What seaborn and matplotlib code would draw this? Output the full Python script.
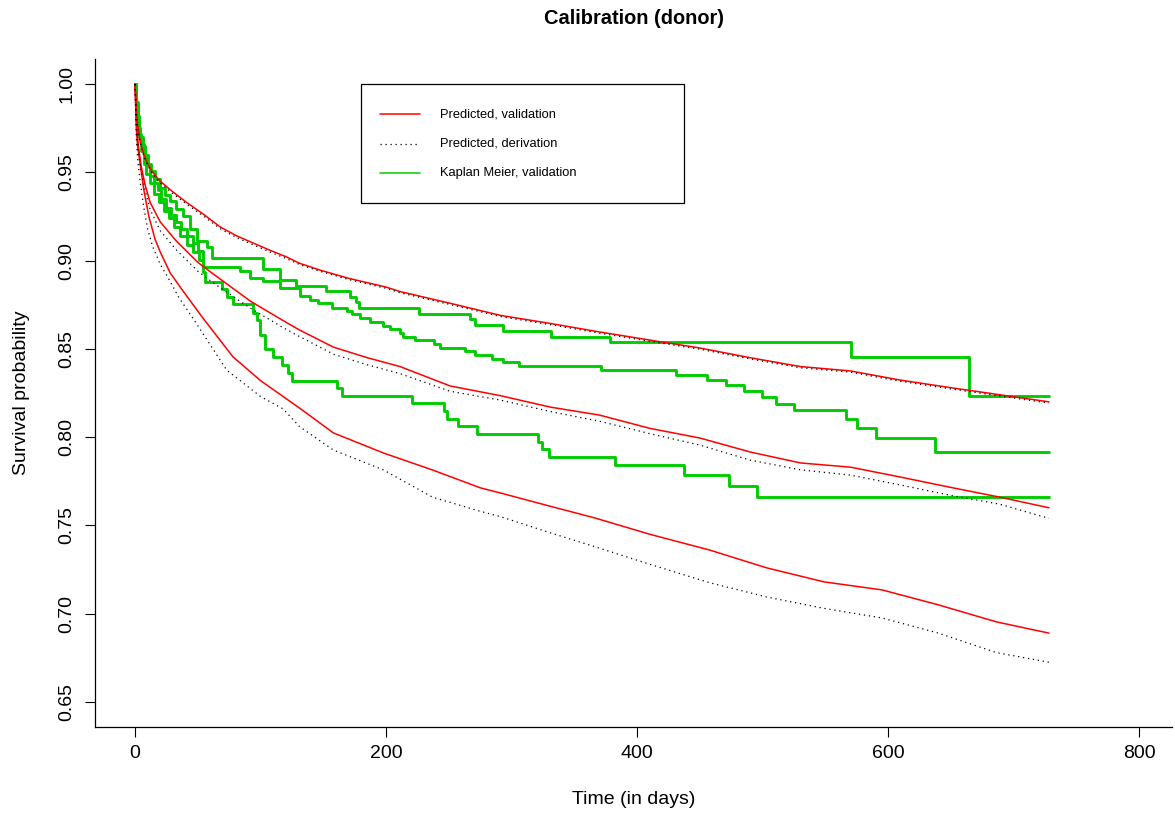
import numpy as np
import pandas as pd
import matplotlib
matplotlib.use("Agg")
import matplotlib.pyplot as plt
from matplotlib.patches import Rectangle
from matplotlib.lines import Line2D
import seaborn as sns

sns.set_style("ticks")
plt.rcParams['font.family'] = ['Liberation Sans', 'DejaVu Sans']
plt.rcParams['text.color'] = 'black'
plt.rcParams['axes.labelcolor'] = 'black'
plt.rcParams['xtick.color'] = 'black'
plt.rcParams['ytick.color'] = 'black'

# --- predicted survival, validation (red) and derivation (dotted) for three groups
t_pred_1 = [0, 1, 2, 4, 7, 10, 14, 20, 30, 41, 55, 68, 81, 94, 107, 121, 131, 147, 170, 200, 211, 250,
            291, 330, 370, 410, 450, 490, 530, 570, 609, 650, 689, 728]
val_1 = [1.0, 0.985, 0.977, 0.968, 0.96, 0.955, 0.95, 0.945, 0.939, 0.933, 0.926, 0.919, 0.914, 0.910,
         0.906, 0.902, 0.8985, 0.8947, 0.890, 0.885, 0.8825, 0.876, 0.869, 0.8645, 0.8596, 0.855, 0.8505,
         0.845, 0.840, 0.8375, 0.8324, 0.828, 0.824, 0.820]
der_1 = [1.0, 0.984, 0.976, 0.967, 0.959, 0.954, 0.949, 0.944, 0.938, 0.932, 0.925, 0.918, 0.913, 0.909,
         0.905, 0.901, 0.8978, 0.894, 0.8893, 0.8843, 0.8818, 0.8753, 0.8683, 0.8638, 0.8589, 0.8543,
         0.8498, 0.8443, 0.8393, 0.8368, 0.8317, 0.8273, 0.8233, 0.8193]

t_pred_2 = [0, 1, 2, 3, 5, 8, 12, 20, 33, 50, 65, 92, 118, 131, 158, 185, 211, 251, 291, 331, 370, 410,
            450, 490, 530, 570, 609, 650, 689, 728]
val_2 = [1.0, 0.98, 0.97, 0.963, 0.953, 0.943, 0.933, 0.922, 0.911, 0.899, 0.891, 0.877, 0.866, 0.8607,
         0.851, 0.845, 0.840, 0.829, 0.8235, 0.817, 0.8125, 0.805, 0.7995, 0.7916, 0.7854, 0.783, 0.7775,
         0.7715, 0.766, 0.760]
der_2 = [1.0, 0.978, 0.968, 0.96, 0.95, 0.94, 0.929, 0.917, 0.906, 0.894, 0.886, 0.873, 0.862, 0.857,
         0.847, 0.841, 0.836, 0.826, 0.821, 0.8145, 0.809, 0.802, 0.7955, 0.787, 0.7815, 0.7785, 0.773,
         0.767, 0.762, 0.754]

t_pred_3 = [0, 1, 2, 4, 7, 11, 16, 20, 28, 38, 54, 78, 100, 118, 131, 158, 198, 237, 275, 291, 330, 366,
            410, 458, 503, 549, 595, 640, 686, 728]
val_3 = [1.0, 0.975, 0.965, 0.955, 0.94, 0.925, 0.912, 0.905, 0.893, 0.883, 0.8675, 0.8455, 0.832,
         0.823, 0.8165, 0.8024, 0.791, 0.7814, 0.7713, 0.7684, 0.761, 0.7543, 0.745, 0.736, 0.726, 0.718,
         0.7135, 0.705, 0.6954, 0.689]
t_der_3 = [0, 1, 2, 4, 7, 10, 14, 20, 25, 35, 46, 73, 100, 118, 131, 158, 198, 237, 275, 291, 330, 366,
           410, 458, 503, 549, 595, 640, 686, 728]
der_3 = [1.0, 0.97, 0.958, 0.945, 0.93, 0.918, 0.908, 0.898, 0.892, 0.879, 0.8675, 0.838, 0.823, 0.816,
         0.806, 0.7927, 0.7814, 0.766, 0.758, 0.755, 0.746, 0.738, 0.728, 0.7175, 0.7095, 0.703, 0.6976,
         0.689, 0.678, 0.6725]

# --- Kaplan Meier, validation (green steps)
t_km_1 = [0, 1, 2, 3, 4, 6, 8, 10, 13, 16, 20, 24, 28, 33, 38, 44, 49, 57.6, 61.1, 102.2, 115.5, 128,
          152.5, 171, 176.3, 178.7, 226, 266.8, 270.8, 292.9, 331, 378.3, 570, 664, 728]
km_1 = [1.0, 0.99, 0.982, 0.975, 0.97, 0.965, 0.96, 0.955, 0.951, 0.946, 0.941, 0.937, 0.934, 0.929,
        0.925, 0.918, 0.9113, 0.9079, 0.9017, 0.8951, 0.889, 0.8858, 0.8828, 0.8796, 0.8764, 0.873,
        0.8698, 0.8668, 0.8635, 0.8603, 0.8569, 0.8537, 0.8452, 0.8232, 0.8232]

t_km_2 = [0, 1, 2, 3, 5, 7, 9, 12, 15, 18, 21, 25, 29, 33, 37, 41, 46, 50, 54.4, 83.4, 91.4, 102.2,
          115.2, 131.4, 139.4, 146, 156.7, 169.1, 172.6, 179.2, 187.2, 197.8, 203.1, 211.1, 213.2, 223,
          238.1, 242.9, 262.8, 270.8, 284.1, 292.9, 305.9, 371.2, 430.9, 455.8, 470.7, 485, 499.2, 510.3,
          525.1, 566, 574.8, 590, 637.2, 728]
km_2 = [1.0, 0.988, 0.978, 0.972, 0.966, 0.96, 0.954, 0.948, 0.944, 0.94, 0.935, 0.93, 0.926, 0.922,
        0.918, 0.914, 0.91, 0.9056, 0.8966, 0.8943, 0.8903, 0.8884, 0.8843, 0.880, 0.8777, 0.8758, 0.8734,
        0.8715, 0.8696, 0.8673, 0.8654, 0.863, 0.8611, 0.8588, 0.8569, 0.855, 0.8528, 0.8507, 0.8488,
        0.8465, 0.8445, 0.8424, 0.8403, 0.838, 0.8352, 0.8324, 0.8294, 0.8262, 0.8228, 0.819, 0.8154,
        0.8105, 0.8052, 0.7995, 0.7916, 0.7916]

t_km_3 = [0, 1, 2, 3, 5, 7, 9, 12, 15, 19, 23, 27, 31, 36, 41, 46, 51, 54.4, 55.8, 69.1, 73, 78.3, 94.2,
          96.9, 99.6, 103.5, 110.2, 116.8, 122.1, 124.8, 160.6, 165.1, 220.9, 246.1, 248.2, 257, 272.1,
          321.3, 323.9, 330, 382.3, 437.3, 473.1, 495.2, 728]
km_3 = [1.0, 0.985, 0.976, 0.97, 0.962, 0.955, 0.949, 0.944, 0.938, 0.933, 0.928, 0.924, 0.919, 0.914,
        0.909, 0.905, 0.9003, 0.8937, 0.888, 0.8837, 0.8796, 0.8753, 0.8705, 0.8664, 0.8579, 0.8498,
        0.8452, 0.8409, 0.8362, 0.832, 0.8277, 0.8235, 0.8192, 0.8148, 0.8103, 0.8063, 0.8018, 0.7975,
        0.7931, 0.7888, 0.784, 0.7784, 0.7724, 0.766, 0.766]

legend_labels = ["Predicted, validation", "Predicted, derivation", "Kaplan Meier, validation"]
x_ticks = [0, 200, 400, 600, 800]
y_ticks = [0.65, 0.70, 0.75, 0.80, 0.85, 0.90, 0.95, 1.00]

RED = "#FF0000"
GREEN = "#00CD00"

fig = plt.figure(figsize=(11.75, 8.16), dpi=100)
ax = fig.add_axes([95 / 1175, (816 - 726.7) / 816, 1077 / 1175, 667.7 / 816])

for t, s in [(t_km_1, km_1), (t_km_2, km_2), (t_km_3, km_3)]:
    sns.lineplot(x=t, y=s, ax=ax, color=GREEN, lw=2.1, estimator=None, sort=False,
                 drawstyle="steps-post")

for t, s in [(t_pred_1, val_1), (t_pred_2, val_2), (t_pred_3, val_3)]:
    sns.lineplot(x=t, y=s, ax=ax, color=RED, lw=1.1, estimator=None, sort=False)

for t, s in [(t_pred_1, der_1), (t_pred_2, der_2), (t_der_3, der_3)]:
    sns.lineplot(x=t, y=s, ax=ax, color="black", lw=0.9, linestyle=(0, (1, 3)),
                 estimator=None, sort=False)

ax.set_xlim(-31.9, 826)
ax.set_ylim(0.636, 1.0142)
ax.set_xticks(x_ticks)
ax.set_xticklabels([str(v) for v in x_ticks], fontsize=14, color="black")
ax.set_yticks(y_ticks)
ax.set_yticklabels(["%.2f" % v for v in y_ticks], fontsize=14, rotation=90, va="center", color="black")
ax.tick_params(direction="out", length=7, width=0.8, color="black")
ax.tick_params(axis="x", pad=6.5)
ax.tick_params(axis="y", pad=7)
for side in ["top", "right"]:
    ax.spines[side].set_visible(False)
for side in ["left", "bottom"]:
    ax.spines[side].set_linewidth(0.9)
    ax.spines[side].set_color("black")

ax.set_xlabel("Time (in days)", fontsize=14, va="center", color="black")
ax.xaxis.set_label_coords(0.5, (726.7 - 800) / 667.7)
ax.set_ylabel("Survival probability", fontsize=14, va="center", color="black")
ax.yaxis.set_label_coords((22 - 95) / 1077, 0.5)
ax.set_title("Calibration (donor)", fontsize=14.4, fontweight="bold", y=(726.7 - 18) / 667.7,
             va="center", pad=0, color="black")

# legend box drawn like the R legend()
ax.add_patch(Rectangle((0.247, 0.7843), 0.300, 0.1783, transform=ax.transAxes,
                       facecolor="white", edgecolor="black", lw=0.9, zorder=5))
legend_styles = [dict(color=RED, lw=1.1, linestyle="-"),
                 dict(color="black", lw=0.9, linestyle=(0, (1, 3))),
                 dict(color=GREEN, lw=1.1, linestyle="-")]
for yy, lab, st in zip([0.9176, 0.8727, 0.8292], legend_labels, legend_styles):
    ax.add_line(Line2D([0.2646, 0.3018], [yy, yy], transform=ax.transAxes, zorder=6, **st))
    ax.text(0.3203, yy, lab, transform=ax.transAxes, fontsize=9.3, va="center", ha="left",
            zorder=6, color="black")

fig.savefig("out.png", dpi=100)
